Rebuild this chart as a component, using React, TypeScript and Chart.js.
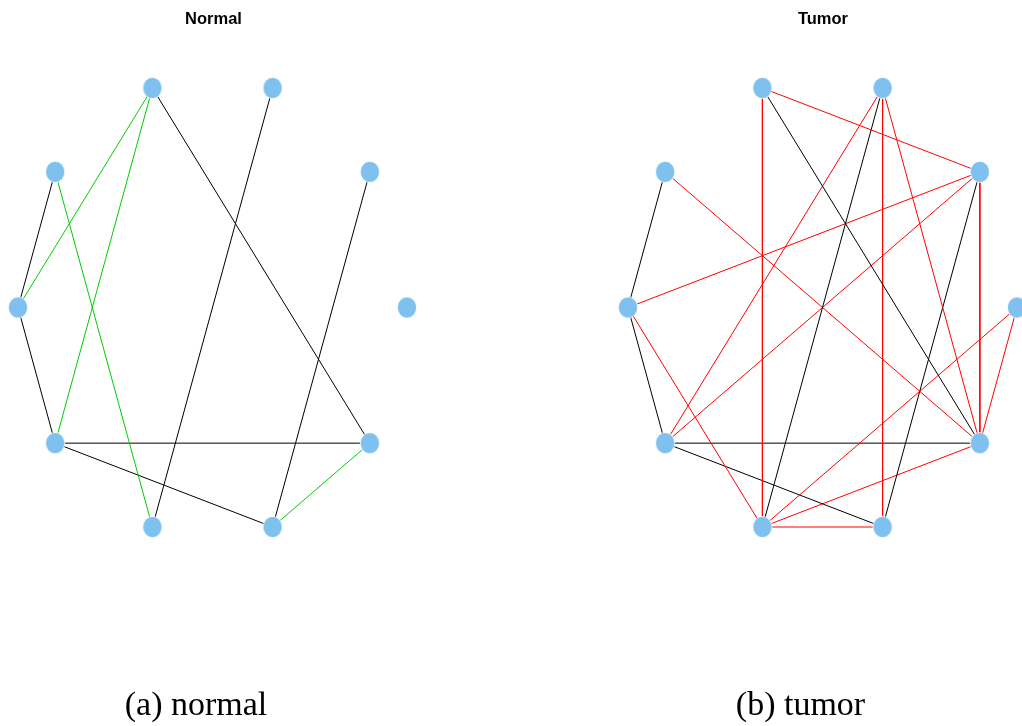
import React, { useEffect, useRef } from "react";
import { Chart, registerables } from "chart.js";
Chart.register(...registerables);

// circular layout of the 10 genes (normalised, igraph-style)
const nodeX = [1, 0.809, 0.309, -0.309, -0.809, -1, -0.809, -0.309, 0.309, 0.809];
const nodeY = [0, 0.618, 1, 1, 0.618, 0, -0.618, -1, -1, -0.618];

// edges: [from, to]; kind 0 = shared (black), 1 = condition-specific
const normalEdges = [[3, 9], [3, 5], [3, 6], [2, 7], [4, 5], [4, 7], [1, 8], [5, 6], [6, 9], [6, 8], [8, 9]];
const normalKinds = [0, 1, 1, 0, 0, 1, 0, 0, 0, 0, 1];

const tumorEdges = [[3, 7], [3, 1], [3, 9], [2, 6], [2, 7], [2, 8], [2, 9], [4, 9], [4, 5], [1, 5], [1, 6], [1, 8], [1, 9], [0, 9], [0, 7], [5, 7], [5, 6], [6, 9], [6, 8], [7, 8], [7, 9]];
const tumorKinds = [1, 1, 0, 1, 0, 1, 1, 1, 0, 1, 1, 0, 1, 1, 1, 1, 0, 0, 0, 1, 1];

const titles = ["Normal", "Tumor"];
const captions = ["(a) normal", "(b) tumor"];

const NODE_COLOR = "#7EC0EE";
const SHARED_COLOR = "#000000";
const SPECIFIC_COLORS = ["#00CD00", "#FF0000"];

const CW = 511;
const CH = 726;

function makeNodeImage(): HTMLCanvasElement {
  const c = document.createElement("canvas");
  c.width = 22;
  c.height = 24;
  const ctx = c.getContext("2d")!;
  ctx.beginPath();
  ctx.ellipse(11, 12, 9.6, 10.6, 0, 0, Math.PI * 2);
  ctx.fillStyle = NODE_COLOR;
  ctx.fill();
  ctx.lineWidth = 0.8;
  ctx.strokeStyle = "#ffffff";
  ctx.stroke();
  return c;
}

function Panel({ idx, left, x0px, x1px }: { idx: number; left: number; x0px: number; x1px: number }) {
  const ref = useRef<HTMLCanvasElement>(null);
  useEffect(() => {
    const edges = idx === 0 ? normalEdges : tumorEdges;
    const kinds = idx === 0 ? normalKinds : tumorKinds;
    const img = makeNodeImage();
    const datasets: any[] = [
      {
        data: nodeX.map((x, i) => ({ x, y: nodeY[i] })),
        pointStyle: img,
        pointRadius: 11,
        showLine: false,
        clip: false,
      },
    ];
    edges.forEach(([a, b], k) => {
      datasets.push({
        data: [
          { x: nodeX[a], y: nodeY[a] },
          { x: nodeX[b], y: nodeY[b] },
        ],
        showLine: true,
        borderColor: kinds[k] ? SPECIFIC_COLORS[idx] : SHARED_COLOR,
        borderWidth: 1,
        pointRadius: 0,
        fill: false,
      });
    });
    // map value -1 -> x0px, 1 -> x1px ; y 1 -> 88, -1 -> 527
    const ux = 2 / (x1px - x0px);
    const xmin = -1 - x0px * ux;
    const xmax = xmin + CW * ux;
    const uy = 2 / (527 - 88);
    const ymax = 1 + 88 * uy;
    const ymin = ymax - CH * uy;
    const chart = new Chart(ref.current!, {
      type: "scatter",
      data: { datasets },
      options: {
        responsive: false,
        animation: false,
        layout: { padding: 0, autoPadding: false },
        scales: {
          x: { type: "linear", display: false, min: xmin, max: xmax },
          y: { type: "linear", display: false, min: ymin, max: ymax },
        },
        plugins: { legend: { display: false }, tooltip: { enabled: false } },
        events: [],
      },
    });
    return () => chart.destroy();
  }, [idx, x0px, x1px]);
  return (
    <canvas
      ref={ref}
      width={CW}
      height={CH}
      style={{ position: "absolute", left, top: 0, width: CW, height: CH }}
    />
  );
}

export default function App() {
  const titleStyle: React.CSSProperties = {
    position: "absolute",
    top: 10,
    width: 200,
    textAlign: "center",
    fontFamily: "'Liberation Sans', Arial, sans-serif",
    fontWeight: "bold",
    fontSize: 16.5,
    lineHeight: "16.5px",
    color: "#000",
    whiteSpace: "nowrap",
  };
  const capStyle: React.CSSProperties = {
    position: "absolute",
    top: 686.5,
    width: 300,
    textAlign: "center",
    fontFamily: "'Liberation Serif', 'Times New Roman', serif",
    fontSize: 34,
    lineHeight: "34px",
    color: "#000",
    whiteSpace: "nowrap",
  };
  return (
    <div style={{ position: "fixed", left: 0, top: 0, width: 1022, height: 726, background: "#fff", overflow: "hidden" }}>
      <Panel idx={0} left={0} x0px={18} x1px={407} />
      <Panel idx={1} left={511} x0px={117} x1px={506} />
      <div style={{ ...titleStyle, left: 213.5 - 100 }}>{titles[0]}</div>
      <div style={{ ...titleStyle, left: 823 - 100 }}>{titles[1]}</div>
      <div style={{ ...capStyle, left: 196 - 150 }}>{captions[0]}</div>
      <div style={{ ...capStyle, left: 800.5 - 150 }}>{captions[1]}</div>
    </div>
  );
}
